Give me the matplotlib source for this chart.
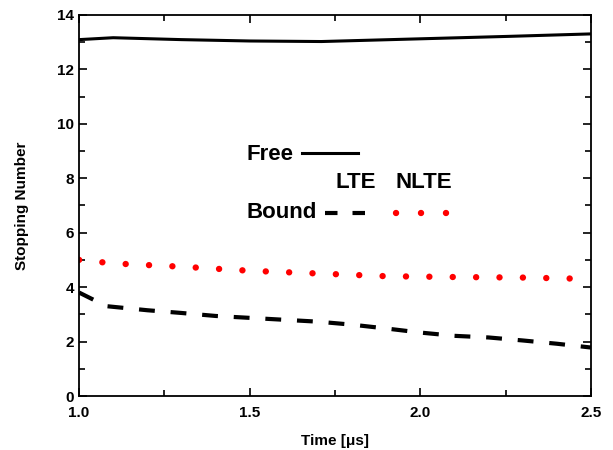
import matplotlib
matplotlib.use("Agg")
import matplotlib.pyplot as plt
from matplotlib.ticker import MultipleLocator, FormatStrFormatter

plt.rcParams["font.family"] = ["Liberation Sans", "DejaVu Sans"]
plt.rcParams["font.weight"] = "bold"

# Free stopping number
t_free = [1.0, 1.1, 1.3, 1.5, 1.71, 2.0, 2.26, 2.5]
free = [13.09, 13.16, 13.09, 13.04, 13.02, 13.12, 13.21, 13.3]

# Bound, LTE
t_lte = [1.0, 1.08, 1.2, 1.3, 1.4, 1.5, 1.6, 1.7, 1.8, 1.9, 2.0, 2.1, 2.2, 2.3, 2.4, 2.5]
bound_lte = [3.8, 3.3, 3.15, 3.05, 2.94, 2.87, 2.8, 2.73, 2.62, 2.48, 2.33, 2.21, 2.15, 2.04, 1.92, 1.78]

# Bound, NLTE
t_nlte = [1.0, 1.1, 1.3, 1.5, 1.7, 1.9, 2.1, 2.3, 2.5]
bound_nlte = [5.0, 4.87, 4.75, 4.6, 4.5, 4.4, 4.37, 4.35, 4.3]

DASH = (3.8, 3.8)
DOT = (0, (0.01, 3.65))

fig = plt.figure(figsize=(6.13, 4.5), dpi=100)
ax = fig.add_axes([0.129, 0.12, 0.835, 0.847])

ax.plot(t_free, free, color="black", linewidth=2.2)
ax.plot(t_lte, bound_lte, color="black", linewidth=3.0, dashes=DASH)
ax.plot(t_nlte, bound_nlte, color="red", linewidth=4.6, linestyle=DOT,
        dash_capstyle="round")

ax.set_xlim(1.0, 2.5)
ax.set_ylim(0, 14)
ax.xaxis.set_major_locator(MultipleLocator(0.5))
ax.xaxis.set_minor_locator(MultipleLocator(0.25))
ax.yaxis.set_major_locator(MultipleLocator(2))
ax.yaxis.set_minor_locator(MultipleLocator(1))
ax.xaxis.set_major_formatter(FormatStrFormatter("%.1f"))
ax.tick_params(which="both", direction="in", top=True, right=True, labelsize=11, width=1.2)
ax.tick_params(which="major", length=6)
ax.tick_params(which="minor", length=4)
ax.tick_params(axis="x", pad=7)
for s in ax.spines.values():
    s.set_linewidth(1.3)

ax.set_xlabel("Time [\u03bcs]", fontsize=11, fontweight="bold", labelpad=10)
ax.set_ylabel("Stopping Number", fontsize=11, fontweight="bold", labelpad=20)

# hand-made key
ax.text(1.49, 8.87, "Free", fontsize=16, fontweight="bold", va="center", ha="left")
ax.plot([1.654, 1.817], [8.93, 8.93], color="black", linewidth=2.2)
ax.text(1.81, 7.85, "LTE", fontsize=16, fontweight="bold", va="center", ha="center")
ax.text(2.01, 7.85, "NLTE", fontsize=16, fontweight="bold", va="center", ha="center")
ax.text(1.49, 6.75, "Bound", fontsize=16, fontweight="bold", va="center", ha="left")
ax.plot([1.72, 1.86], [6.73, 6.73], color="black", linewidth=3.0, dashes=(3.0, 3.6))
ax.plot([1.929, 2.08], [6.73, 6.73], color="red", linewidth=4.6, linestyle=(0, (0.01, 3.9)),
        dash_capstyle="round")

fig.savefig("out.png", dpi=100)
